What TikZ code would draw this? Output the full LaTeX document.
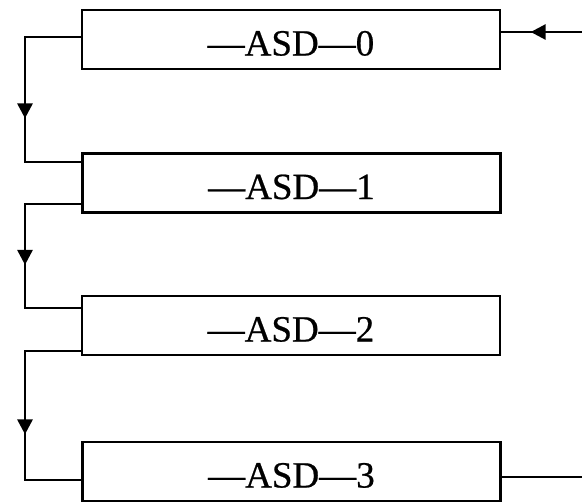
\documentclass[tikz,border=0pt]{standalone}
\usepackage{fontspec}
\setmainfont[FakeBold=0.6]{Liberation Serif}
\usetikzlibrary{arrows.meta,decorations.markings}
\begin{document}
\begin{tikzpicture}[x=1pt,y=-1pt,
  box/.style={draw, line width=2.8pt, minimum width=418pt, minimum height=59pt,
    inner sep=0pt, text height=32pt, text depth=0pt,
    font=\fontsize{37}{40}\selectfont},
  link/.style={line width=2.8pt},
  tipat/.style={postaction={decorate},
    decoration={markings, mark=at position #1 with {\arrow{Triangle[length=15pt,width=15pt]}}}}
]
\useasboundingbox (0,0) rectangle (582,504);
\node[box] (b0) at (291,39.5) {—ASD—0};
\node[box] (b1) at (291.5,183) {—ASD—1};
\node[box] (b2) at (291,325.5) {—ASD—2};
\node[box] (b3) at (291.5,471.5) {—ASD—3};
\coordinate (rr) at (583.8,0);
\coordinate (ll) at (25,0);
\draw[link, tipat=137pt] ([yshift=2.5pt]b0.west) -- ([yshift=2.5pt]b0.west -| ll) |- ([yshift=21pt]b1.west);
\draw[link, tipat=117pt] ([yshift=-21pt]b1.west) -- ([yshift=-21pt]b1.west -| ll) |- ([yshift=17.5pt]b2.west);
\draw[link, tipat=139pt] ([yshift=-25.5pt]b2.west) -- ([yshift=-25.5pt]b2.west -| ll) |- ([yshift=-8.5pt]b3.west);
\draw[link, tipat=580pt] ([yshift=-5.5pt]b3.east) -- ([yshift=-5.5pt]b3.east -| rr) |- ([yshift=7.5pt]b0.east);
\end{tikzpicture}
\end{document}
